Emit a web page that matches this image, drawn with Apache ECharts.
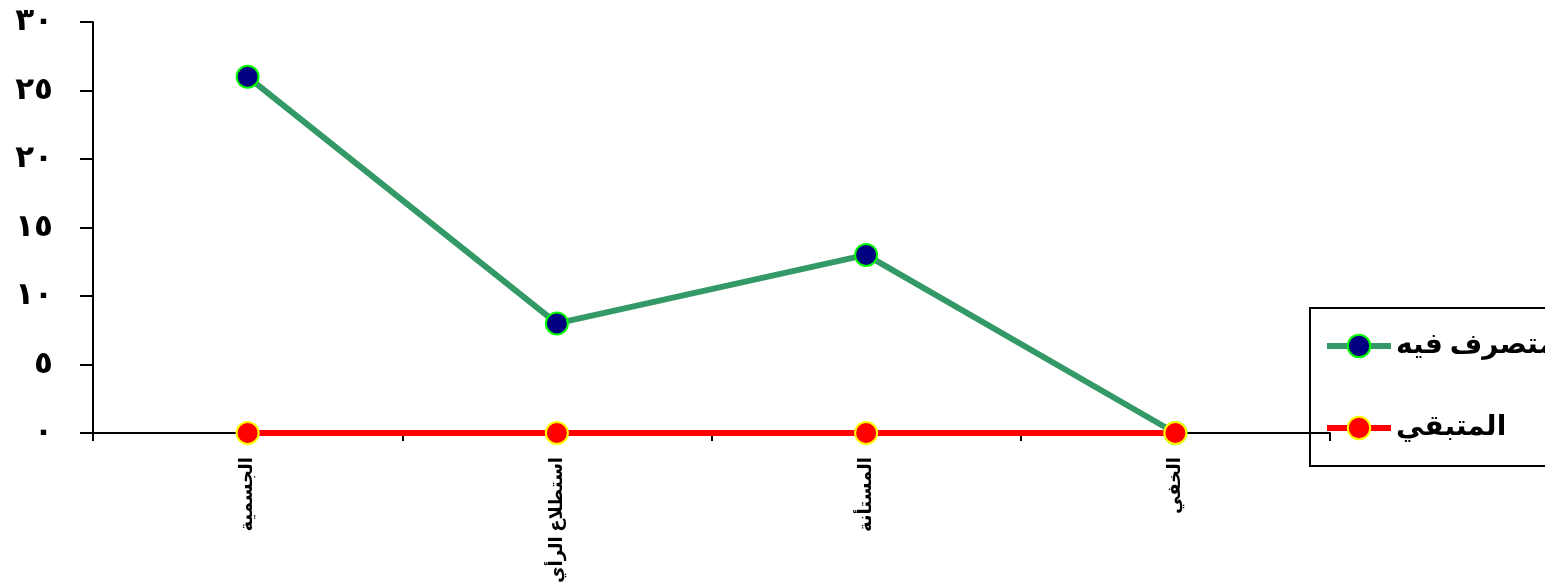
<!DOCTYPE html>
<html>
<head>
<meta charset="utf-8">
<script src="https://cdn.jsdelivr.net/npm/echarts@6/dist/echarts.min.js"></script>
<style>
html,body{margin:0;padding:0;background:#fff;overflow:hidden;width:1545px;height:586px;}
#chart{width:1545px;height:586px;overflow:hidden;}
</style>
</head>
<body>
<div id="chart"></div>
<script>
var categories = ['الجسمية', 'استطلاع الرأي', 'المستأنة', 'الخفي'];
var spentValues = [26, 8, 13, 0];
var remainingValues = [0, 0, 0, 0];
var seriesNames = ['المتصرف فيه', 'المتبقي'];
var yTickLabels = ['٠', '٥', '١٠', '١٥', '٢٠', '٢٥', '٣٠'];

var fontFam = '"Times New Roman", "DejaVu Sans", serif';
var chart = echarts.init(document.getElementById('chart'), null, {renderer: 'canvas', width: 1545, height: 586});
chart.setOption({
  animation: false,
  backgroundColor: '#ffffff',
  grid: {left: 93, right: 215, top: 22, bottom: 153, containLabel: false, outerBoundsMode: 'none'},
  legend: {
    orient: 'vertical',
    left: 1310,
    top: 308,
    padding: [24, 30, 24, 14],
    itemGap: 54,
    itemWidth: 64,
    itemHeight: 28,
    borderColor: '#000',
    borderWidth: 2,
    backgroundColor: 'transparent',
    lineStyle: {width: 6},
    textStyle: {fontSize: 28, fontWeight: 'bold', color: '#000', fontFamily: fontFam},
    data: seriesNames
  },
  xAxis: {
    type: 'category',
    data: categories,
    boundaryGap: true,
    axisLine: {lineStyle: {color: '#000', width: 2}},
    axisTick: {show: true, length: 8, lineStyle: {color: '#000', width: 2}},
    axisLabel: {rotate: 90, margin: 24, fontSize: 18, fontWeight: 'bold', color: '#000', fontFamily: fontFam, interval: 0},
    splitLine: {show: false}
  },
  yAxis: {
    type: 'value',
    min: 0, max: 30, interval: 5,
    axisLine: {show: true, lineStyle: {color: '#000', width: 2}},
    axisTick: {show: true, length: 13, lineStyle: {color: '#000', width: 2}},
    axisLabel: {margin: 40, fontSize: 31, fontWeight: 'bold', color: '#000', fontFamily: fontFam,
      formatter: function (v) { return yTickLabels[Math.round(v / 5)]; }},
    splitLine: {show: false}
  },
  series: [
    {
      name: seriesNames[0],
      type: 'line',
      data: spentValues,
      symbol: 'circle',
      symbolSize: 22,
      lineStyle: {color: '#339966', width: 6},
      itemStyle: {color: '#000080', borderColor: '#00ff00', borderWidth: 2},
      z: 2
    },
    {
      name: seriesNames[1],
      type: 'line',
      data: remainingValues,
      symbol: 'circle',
      symbolSize: 22,
      lineStyle: {color: '#ff0000', width: 6},
      itemStyle: {color: '#ff0000', borderColor: '#ffff00', borderWidth: 2},
      z: 3
    }
  ]
});
</script>
</body>
</html>
